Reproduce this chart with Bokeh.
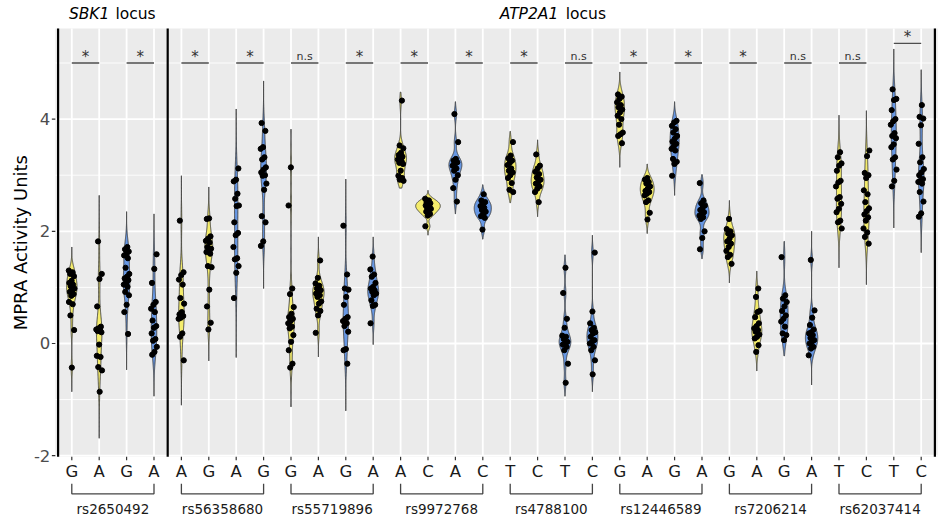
import numpy as np
from bokeh.plotting import figure
from bokeh.models import Range1d, ColumnDataSource
from bokeh.core.properties import value
from bokeh.embed import file_html
from bokeh.resources import INLINE

# ---------------- data ----------------
alleles = ["G", "A", "G", "A", "A", "G", "A", "G", "G", "A", "G", "A", "A", "C", "A", "C",
           "T", "C", "T", "C", "G", "A", "G", "A", "G", "A", "G", "A", "T", "C", "T", "C"]
snps = ["rs2650492", "rs56358680", "rs55719896", "rs9972768",
        "rs4788100", "rs12446589", "rs7206214", "rs62037414"]
locus_names = ["SBK1", "ATP2A1"]
locus_first = [1, 5]
locus_last = [4, 32]
sig_labels = ["*", "*", "*", "*", "n.s", "*", "*", "*", "*", "n.s", "*", "*", "*", "n.s", "n.s", "*"]
sig_y = [5.0, 5.0, 5.0, 5.0, 5.0, 5.0, 5.0, 5.0, 5.0, 5.0, 5.0, 5.0, 5.0, 5.0, 5.0, 5.35]
y_major = [-2, 0, 2, 4]
y_minor = [-1, 1, 3, 5]

# violin extent (full data range) per group
ext_lo = [-0.86, -1.69, -0.47, -0.94, -1.10, -0.31, -0.25, 0.98, -1.13, -0.24, -1.20, -0.02,
          2.77, 1.93, 2.31, 1.86, 2.51, 2.26, -0.94, -0.86, 3.14, 1.96, 2.64, 1.51,
          1.08, -0.49, -0.22, -0.74, 1.35, 1.05, 2.06, 1.62]
ext_hi = [1.72, 2.64, 2.35, 2.31, 2.99, 2.79, 4.18, 4.68, 3.82, 1.90, 2.93, 1.90,
          4.48, 2.73, 4.31, 2.83, 3.78, 3.63, 1.58, 1.93, 4.84, 3.20, 4.31, 3.01,
          2.55, 1.29, 1.82, 2.00, 4.07, 4.15, 5.25, 4.88]

v01 = [1.30, 1.27, 1.24, 1.20, 1.12, 1.08, 1.05, 1.02, 0.98, 0.95, 0.92, 0.88, 0.85, 0.74, 0.70, 0.50, 0.24, -0.43]
v02 = [1.82, 1.24, 1.15, 0.66, 0.30, 0.27, 0.25, 0.24, 0.22, 0.20, -0.02, -0.22, -0.24, -0.42, -0.48, -0.86]
v03 = [1.72, 1.68, 1.64, 1.60, 1.57, 1.52, 1.35, 1.24, 1.19, 1.16, 1.13, 1.08, 1.05, 1.01, 0.92, 0.86, 0.69, 0.56, 0.17]
v04 = [1.59, 1.33, 1.08, 0.74, 0.69, 0.62, 0.56, 0.41, 0.31, 0.28, 0.18, 0.08, 0.05, -0.06, -0.15, -0.20]
v05 = [2.19, 1.27, 1.22, 1.14, 1.05, 0.81, 0.71, 0.56, 0.52, 0.49, 0.46, 0.44, 0.18, 0.12, -0.30]
v06 = [2.23, 2.22, 1.91, 1.87, 1.83, 1.80, 1.72, 1.69, 1.66, 1.63, 1.60, 1.38, 1.36, 0.96, 0.66, 0.37, 0.25]
v07 = [3.12, 2.92, 2.89, 2.67, 2.58, 2.46, 2.45, 2.16, 1.97, 1.93, 1.72, 1.52, 1.50, 1.38, 1.26, 0.81]
v08 = [3.93, 3.79, 3.50, 3.47, 3.32, 3.28, 3.14, 3.10, 3.05, 3.00, 2.99, 2.85, 2.74, 2.27, 2.16, 1.82, 1.74]
v09 = [3.14, 2.46, 0.98, 0.88, 0.65, 0.53, 0.47, 0.44, 0.40, 0.36, 0.30, 0.27, 0.15, 0.03, -0.12, -0.36, -0.43]
v10 = [1.48, 1.17, 1.07, 1.03, 0.98, 0.95, 0.92, 0.89, 0.86, 0.83, 0.75, 0.71, 0.62, 0.58, 0.50, 0.19]
v11 = [2.10, 1.23, 0.98, 0.96, 0.83, 0.69, 0.47, 0.44, 0.40, 0.36, 0.31, 0.21, -0.10, -0.12, -0.36]
v12 = [1.55, 1.32, 1.23, 1.19, 1.08, 1.01, 0.98, 0.95, 0.92, 0.89, 0.86, 0.77, 0.69, 0.67, 0.36]
v13 = [4.33, 3.53, 3.48, 3.40, 3.36, 3.33, 3.30, 3.28, 3.25, 3.22, 3.20, 3.08, 2.99, 2.95, 2.92, 2.90]
v14 = [2.58, 2.55, 2.52, 2.50, 2.48, 2.46, 2.44, 2.42, 2.40, 2.38, 2.35, 2.31, 2.28, 2.09]
v15 = [4.09, 3.59, 3.29, 3.26, 3.23, 3.20, 3.17, 3.12, 3.08, 3.00, 2.92, 2.77, 2.53]
v16 = [2.66, 2.55, 2.52, 2.49, 2.45, 2.42, 2.38, 2.35, 2.31, 2.27, 2.24, 2.03]
v17 = [3.59, 3.35, 3.30, 3.26, 3.22, 3.18, 3.12, 3.08, 3.05, 3.00, 2.95, 2.86, 2.74, 2.70]
v18 = [3.37, 3.17, 3.12, 3.06, 3.02, 2.96, 2.92, 2.88, 2.85, 2.80, 2.76, 2.70, 2.52]
v19 = [1.35, 0.90, 0.44, 0.28, 0.14, 0.12, 0.08, 0.03, 0.00, -0.02, -0.06, -0.12, -0.36, -0.70]
v20 = [1.62, 0.57, 0.36, 0.28, 0.24, 0.20, 0.18, 0.12, 0.06, 0.03, 0.00, -0.06, -0.12, -0.30, -0.55]
v21 = [4.44, 4.40, 4.36, 4.30, 4.25, 4.21, 4.17, 4.12, 4.06, 4.00, 3.90, 3.76, 3.73, 3.70, 3.57]
v22 = [2.95, 2.92, 2.88, 2.85, 2.80, 2.76, 2.72, 2.70, 2.67, 2.64, 2.55, 2.52, 2.33, 2.21]
v23 = [3.97, 3.94, 3.88, 3.82, 3.76, 3.70, 3.65, 3.60, 3.56, 3.52, 3.47, 3.44, 3.29, 3.24, 3.20, 2.99]
v24 = [2.86, 2.55, 2.50, 2.46, 2.42, 2.38, 2.34, 2.30, 2.28, 2.25, 2.22, 2.00, 1.88, 1.68]
v25 = [2.22, 2.04, 2.00, 1.96, 1.93, 1.87, 1.82, 1.78, 1.72, 1.65, 1.58, 1.54, 1.42]
v26 = [0.98, 0.83, 0.58, 0.56, 0.47, 0.36, 0.31, 0.27, 0.24, 0.21, 0.16, 0.12, 0.09, -0.03, -0.15]
v27 = [1.54, 0.86, 0.80, 0.74, 0.66, 0.58, 0.50, 0.44, 0.39, 0.30, 0.18, 0.15, 0.06]
v28 = [1.49, 0.59, 0.46, 0.33, 0.25, 0.20, 0.18, 0.15, 0.10, 0.06, 0.03, 0.00, -0.06, -0.09, -0.21]
v29 = [3.41, 3.32, 3.21, 3.17, 3.08, 2.90, 2.87, 2.80, 2.61, 2.58, 2.49, 2.40, 2.34, 2.19, 2.16, 2.05]
v30 = [3.44, 3.34, 3.04, 3.00, 2.95, 2.73, 2.66, 2.52, 2.41, 2.36, 2.30, 2.25, 2.19, 2.05, 1.98, 1.90, 1.78]
v31 = [4.53, 4.36, 4.34, 4.16, 4.00, 3.96, 3.90, 3.75, 3.70, 3.66, 3.55, 3.50, 3.32, 3.28, 3.10, 2.90, 2.80]
v32 = [4.25, 4.04, 4.01, 3.89, 3.56, 3.32, 3.23, 3.11, 3.05, 3.00, 2.93, 2.90, 2.88, 2.85, 2.70, 2.53, 2.32, 2.26]

groups = [v01, v02, v03, v04, v05, v06, v07, v08, v09, v10, v11, v12, v13, v14, v15, v16,
          v17, v18, v19, v20, v21, v22, v23, v24, v25, v26, v27, v28, v29, v30, v31, v32]

# ---------------- style ----------------
YELLOW = "#F4EC6C"
BLUE = "#6898E4"
pair_fill = [YELLOW, YELLOW, BLUE, BLUE]
FONT = value("DejaVu Sans")

W, H = 939, 528
X0, X1 = -1.602, 32.668
Y0, Y1 = -3.298, 6.114
PX = (X1 - X0) / W
PY = (Y1 - Y0) / H
PXL, PXR = 0.4, 32.6
PYB, PYT = -2.02, 5.615

n_cat = len(alleles)
pos = np.arange(1, n_cat + 1)

p = figure(width=W, height=H, x_range=Range1d(X0, X1), y_range=Range1d(Y0, Y1),
           x_axis_location=None, y_axis_location=None, toolbar_location=None,
           output_backend="svg", min_border=0)
p.outline_line_color = None
p.background_fill_color = "white"
p.border_fill_color = "white"
p.grid.visible = False

# panel
p.quad(left=[PXL], right=[PXR], bottom=[PYB], top=[PYT], fill_color="#EBEBEB", line_color=None)
p.segment(x0=[PXL] * len(y_minor), x1=[PXR] * len(y_minor), y0=y_minor, y1=y_minor,
          line_color="white", line_width=0.9)
p.segment(x0=[PXL] * len(y_major), x1=[PXR] * len(y_major), y0=y_major, y1=y_major,
          line_color="white", line_width=1.8)
p.segment(x0=pos, x1=pos, y0=[PYB] * n_cat, y1=[PYT] * n_cat, line_color="white", line_width=1.8)

# facet separators
sep_x = [locus_first[0] - 0.5] + [f - 0.5 for f in locus_first[1:]] + [locus_last[-1] + 0.5]
p.segment(x0=sep_x, x1=sep_x, y0=[PYB] * len(sep_x), y1=[PYT] * len(sep_x),
          line_color="black", line_width=2.2)

# violins (gaussian KDE, nrd0 bandwidth, common area scaling)
def nrd0(x):
    x = np.asarray(x, float)
    sd = x.std(ddof=1)
    q75, q25 = np.percentile(x, [75, 25])
    lo = min(sd, (q75 - q25) / 1.34)
    if lo <= 0:
        lo = sd
    return 0.9 * lo * len(x) ** -0.2

grids, dens = [], []
for i, vals in enumerate(groups):
    g = np.linspace(ext_lo[i], ext_hi[i], 300)
    x = np.asarray(vals, float)
    bw = nrd0(x)
    d = np.exp(-0.5 * ((g[:, None] - x[None, :]) / bw) ** 2).sum(axis=1) / (len(x) * bw * np.sqrt(2 * np.pi))
    grids.append(g)
    dens.append(d)
dmax = max(d.max() for d in dens)

xs, ys, fills = [], [], []
for i in range(n_cat):
    hw = 0.45 * dens[i] / dmax
    c = pos[i]
    xs.append(np.concatenate([c + hw, (c - hw)[::-1]]))
    ys.append(np.concatenate([grids[i], grids[i][::-1]]))
    fills.append(pair_fill[i % 4])
p.patches(xs=xs, ys=ys, fill_color=fills, line_color="#3a3a3a", line_width=0.9)

# jittered points (deterministic low-discrepancy offsets)
px_, py_ = [], []
for i, vals in enumerate(groups):
    k = np.arange(len(vals))
    off = ((k * 0.6180339887 + 0.31 * i) % 1.0 - 0.5) * 0.22
    px_.extend(pos[i] + off)
    py_.extend(vals)
p.scatter(x=px_, y=py_, size=5.2, fill_color="black", line_color="black")

# significance bars
sx0 = pos[0::2]
sx1 = pos[1::2]
p.segment(x0=sx0, x1=sx1, y0=sig_y, y1=sig_y, line_color="#4d4d4d", line_width=1.3)
star_idx = [i for i, s in enumerate(sig_labels) if s == "*"]
ns_idx = [i for i, s in enumerate(sig_labels) if s != "*"]
p.text(x=[(sx0[i] + sx1[i]) / 2 for i in star_idx], y=[sig_y[i] for i in star_idx],
       text=[sig_labels[i] for i in star_idx], text_align="center", text_baseline="bottom",
       y_offset=3, text_font=FONT, text_font_size="15px", text_color="#333333")
p.text(x=[(sx0[i] + sx1[i]) / 2 for i in ns_idx], y=[sig_y[i] for i in ns_idx],
       text=[sig_labels[i] for i in ns_idx], text_align="center", text_baseline="bottom",
       y_offset=0, text_font=FONT, text_font_size="11px", text_color="#333333")

# locus titles
cent = [(a + b) / 2 for a, b in zip(locus_first, locus_last)]
p.text(x=cent, y=[PYT] * 2, text=locus_names, text_align="right", text_baseline="bottom",
       x_offset=[-3.5, 7], y_offset=-5, text_font=FONT, text_font_style="italic",
       text_font_size="15.5px", text_color="black")
p.text(x=cent, y=[PYT] * 2, text=["locus", "locus"], text_align="left", text_baseline="bottom",
       x_offset=[2.5, 14.5], y_offset=-5, text_font=FONT, text_font_size="15.5px", text_color="black")

# x axis: ticks, labels, brackets, snp labels
p.segment(x0=pos, x1=pos, y0=[PYB] * n_cat, y1=[PYB - 3.5 * PY] * n_cat, line_color="#333333", line_width=1.2)
p.text(x=pos, y=[PYB] * n_cat, text=alleles, text_align="center", text_baseline="middle",
       y_offset=15, text_font=FONT, text_font_size="16.5px", text_color="#1a1a1a")
bx, by = [], []
yb_top = PYB - 27 * PY
yb_bot = PYB - 37 * PY
for k in range(len(snps)):
    a, b = pos[4 * k], pos[4 * k + 3]
    bx.append([a, a, b, b])
    by.append([yb_top, yb_bot, yb_bot, yb_top])
p.multi_line(xs=bx, ys=by, line_color="#444444", line_width=1.3)
snp_c = [(pos[4 * k] + pos[4 * k + 3]) / 2 for k in range(len(snps))]
p.text(x=snp_c, y=[PYB] * len(snps), text=snps, text_align="center", text_baseline="middle",
       y_offset=52, text_font=FONT, text_font_size="13.5px", text_color="#1a1a1a")

# y axis
p.segment(x0=[PXL - 3.5 * PX] * len(y_major), x1=[PXL] * len(y_major), y0=y_major, y1=y_major,
          line_color="#333333", line_width=1.2)
p.text(x=[PXL] * len(y_major), y=y_major, text=[str(v) for v in y_major], text_align="right",
       text_baseline="middle", x_offset=-5, text_font=FONT, text_font_size="16.5px", text_color="#4d4d4d")
p.text(x=[X0 + 20 * PX], y=[(PYB + PYT) / 2], text=["MPRA Activity Units"], angle=np.pi / 2,
       text_align="center", text_baseline="middle", text_font=FONT, text_font_size="18px",
       text_color="black")

open("out.html", "w").write(file_html(p, INLINE))
